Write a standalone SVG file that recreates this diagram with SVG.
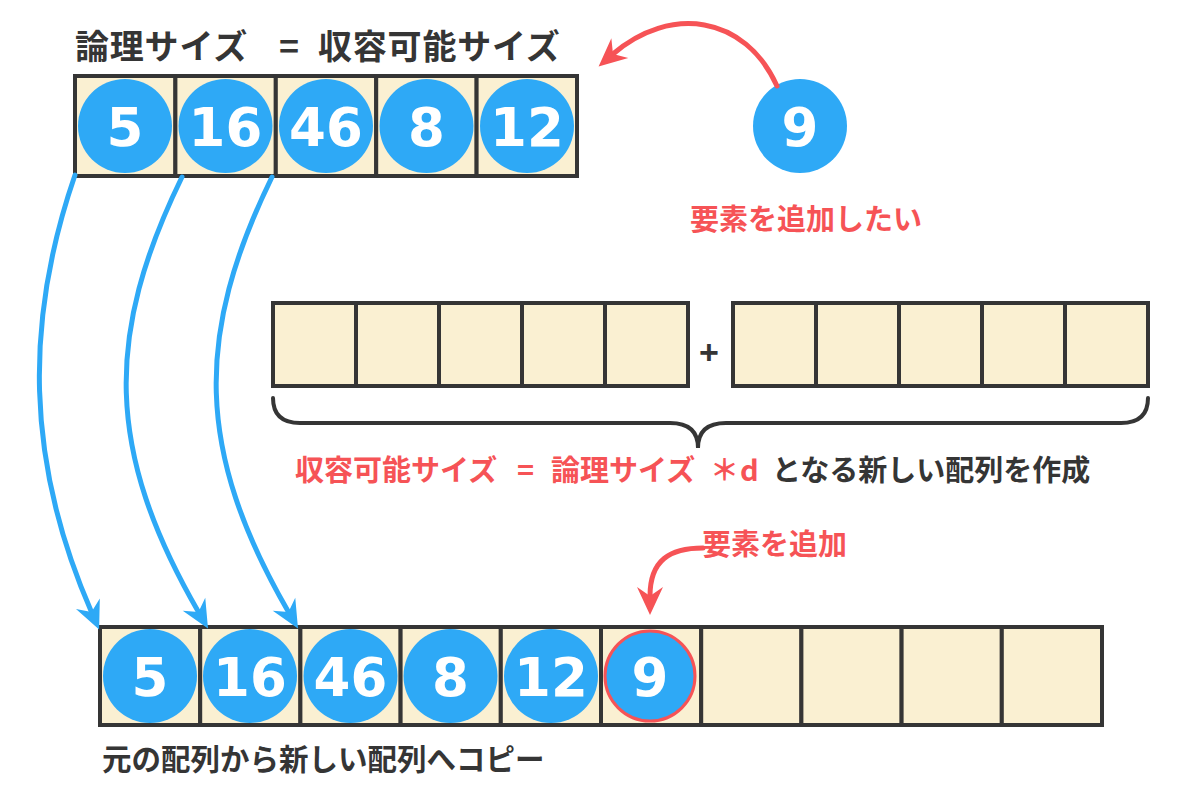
<svg xmlns="http://www.w3.org/2000/svg" width="1200" height="800" viewBox="0 0 1200 800">
<defs>
<style>
.cell{fill:#faf0d2;stroke:#353535;stroke-width:4}
.ball{fill:#2ea9f6}
.num{font-family:"DejaVu Sans",sans-serif;font-weight:bold;font-size:53px;fill:#fff;text-anchor:middle}
.jp{font-family:"Noto Sans CJK JP",sans-serif;font-weight:bold}
.dark{fill:#353535}
.red{fill:#f65356}
.blue-arrow{fill:none;stroke:#2ea9f6;stroke-width:5;stroke-linecap:round}
.red-arrow{fill:none;stroke:#f65356;stroke-width:5;stroke-linecap:round}
</style>
<marker id="ab" markerUnits="userSpaceOnUse" viewBox="-30 -15 32 30" markerWidth="32" markerHeight="30" refX="-19" refY="0" orient="auto">
<path d="M0,0 L-28,-13 L-19,0 L-28,13 Z" fill="#2ea9f6"/>
</marker>
<marker id="ar" markerUnits="userSpaceOnUse" viewBox="-30 -15 32 30" markerWidth="32" markerHeight="30" refX="-19" refY="0" orient="auto">
<path d="M0,0 L-28,-13 L-19,0 L-28,13 Z" fill="#f65356"/>
</marker>
</defs>
<rect width="1200" height="800" fill="#fff"/>

<g id="title">
<text class="jp dark" x="75" y="59" font-size="34" letter-spacing="0.8">論理サイズ</text>
<text class="jp dark" x="289" y="59" font-size="34" text-anchor="middle">=</text>
<text class="jp dark" x="318" y="59" font-size="34" letter-spacing="0.8">収容可能サイズ</text>
</g>

<g id="top-array">
<rect class="cell" x="75" y="76" width="100.4" height="100"/>
<rect class="cell" x="175.4" y="76" width="100.4" height="100"/>
<rect class="cell" x="275.8" y="76" width="100.4" height="100"/>
<rect class="cell" x="376.2" y="76" width="100.4" height="100"/>
<rect class="cell" x="476.6" y="76" width="100.4" height="100"/>
<circle class="ball" cx="125" cy="126" r="47"/>
<circle class="ball" cx="225.5" cy="126" r="47"/>
<circle class="ball" cx="326" cy="126" r="47"/>
<circle class="ball" cx="426.5" cy="126" r="47"/>
<circle class="ball" cx="527" cy="126" r="47"/>
<text class="num" x="125" y="146">5</text>
<text class="num" x="225.5" y="146">16</text>
<text class="num" x="326" y="146">46</text>
<text class="num" x="426.5" y="146">8</text>
<text class="num" x="527" y="146">12</text>
</g>

<g id="new-element">
<circle class="ball" cx="800" cy="126" r="47"/>
<text class="num" x="800" y="146">9</text>
<text class="jp red" x="806" y="230" font-size="29" text-anchor="middle">要素を追加したい</text>
</g>

<g id="mid-arrays">
<rect class="cell" x="273" y="303" width="83" height="83"/>
<rect class="cell" x="356" y="303" width="83" height="83"/>
<rect class="cell" x="439" y="303" width="83" height="83"/>
<rect class="cell" x="522" y="303" width="83" height="83"/>
<rect class="cell" x="605" y="303" width="83" height="83"/>
<text x="709" y="364" font-family="Liberation Sans, sans-serif" font-weight="bold" font-size="34" text-anchor="middle" class="dark">+</text>
<rect class="cell" x="733" y="303" width="83" height="83"/>
<rect class="cell" x="816" y="303" width="83" height="83"/>
<rect class="cell" x="899" y="303" width="83" height="83"/>
<rect class="cell" x="982" y="303" width="83" height="83"/>
<rect class="cell" x="1065" y="303" width="83" height="83"/>
<path d="M273,398 Q273,423 300,423 L670,423 Q698,423 698,448 Q698,423 726,423 L1121,423 Q1148,423 1148,398" fill="none" stroke="#353535" stroke-width="4" stroke-linecap="round"/>
<text class="jp" font-size="29" y="481"><tspan class="red" x="295">収容可能サイズ</tspan><tspan class="red" x="517">=</tspan><tspan class="red" x="551">論理サイズ</tspan><tspan class="red" x="710">＊</tspan><tspan class="red" x="740">d</tspan><tspan class="dark" x="772">となる新しい配列を作成</tspan></text>
</g>

<g id="bottom-array">
<rect class="cell" x="100" y="627" width="100.2" height="98"/>
<rect class="cell" x="200.2" y="627" width="100.2" height="98"/>
<rect class="cell" x="300.4" y="627" width="100.2" height="98"/>
<rect class="cell" x="400.6" y="627" width="100.2" height="98"/>
<rect class="cell" x="500.8" y="627" width="100.2" height="98"/>
<rect class="cell" x="601" y="627" width="100.2" height="98"/>
<rect class="cell" x="701.2" y="627" width="100.2" height="98"/>
<rect class="cell" x="801.4" y="627" width="100.2" height="98"/>
<rect class="cell" x="901.6" y="627" width="100.2" height="98"/>
<rect class="cell" x="1001.8" y="627" width="100.2" height="98"/>
<circle class="ball" cx="150" cy="676" r="47"/>
<circle class="ball" cx="250" cy="676" r="47"/>
<circle class="ball" cx="350.5" cy="676" r="47"/>
<circle class="ball" cx="450.5" cy="676" r="47"/>
<circle class="ball" cx="551" cy="676" r="47"/>
<circle class="ball" cx="650" cy="676" r="45" stroke="#f65356" stroke-width="3"/>
<text class="num" x="150" y="696">5</text>
<text class="num" x="250" y="696">16</text>
<text class="num" x="350.5" y="696">46</text>
<text class="num" x="450.5" y="696">8</text>
<text class="num" x="551" y="696">12</text>
<text class="num" x="650" y="696">9</text>
<text class="jp dark" x="102" y="770" font-size="29.5">元の配列から新しい配列へコピー</text>
<text class="jp red" x="702" y="555" font-size="29">要素を追加</text>
</g>

<g id="connectors">
<path class="blue-arrow" d="M75,175 C25,320 25,460 91.5,612" marker-end="url(#ab)"/>
<path class="blue-arrow" d="M182,177 C105,335 105,450 198.5,612" marker-end="url(#ab)"/>
<path class="blue-arrow" d="M272,177 C195,335 195,450 288.5,612" marker-end="url(#ab)"/>
<path class="red-arrow" d="M777,86 C745,15 670,5 613,54" marker-end="url(#ar)"/>
<path class="red-arrow" d="M703,548 C670,548 650,560 650,596" marker-end="url(#ar)"/>
</g>
</svg>
